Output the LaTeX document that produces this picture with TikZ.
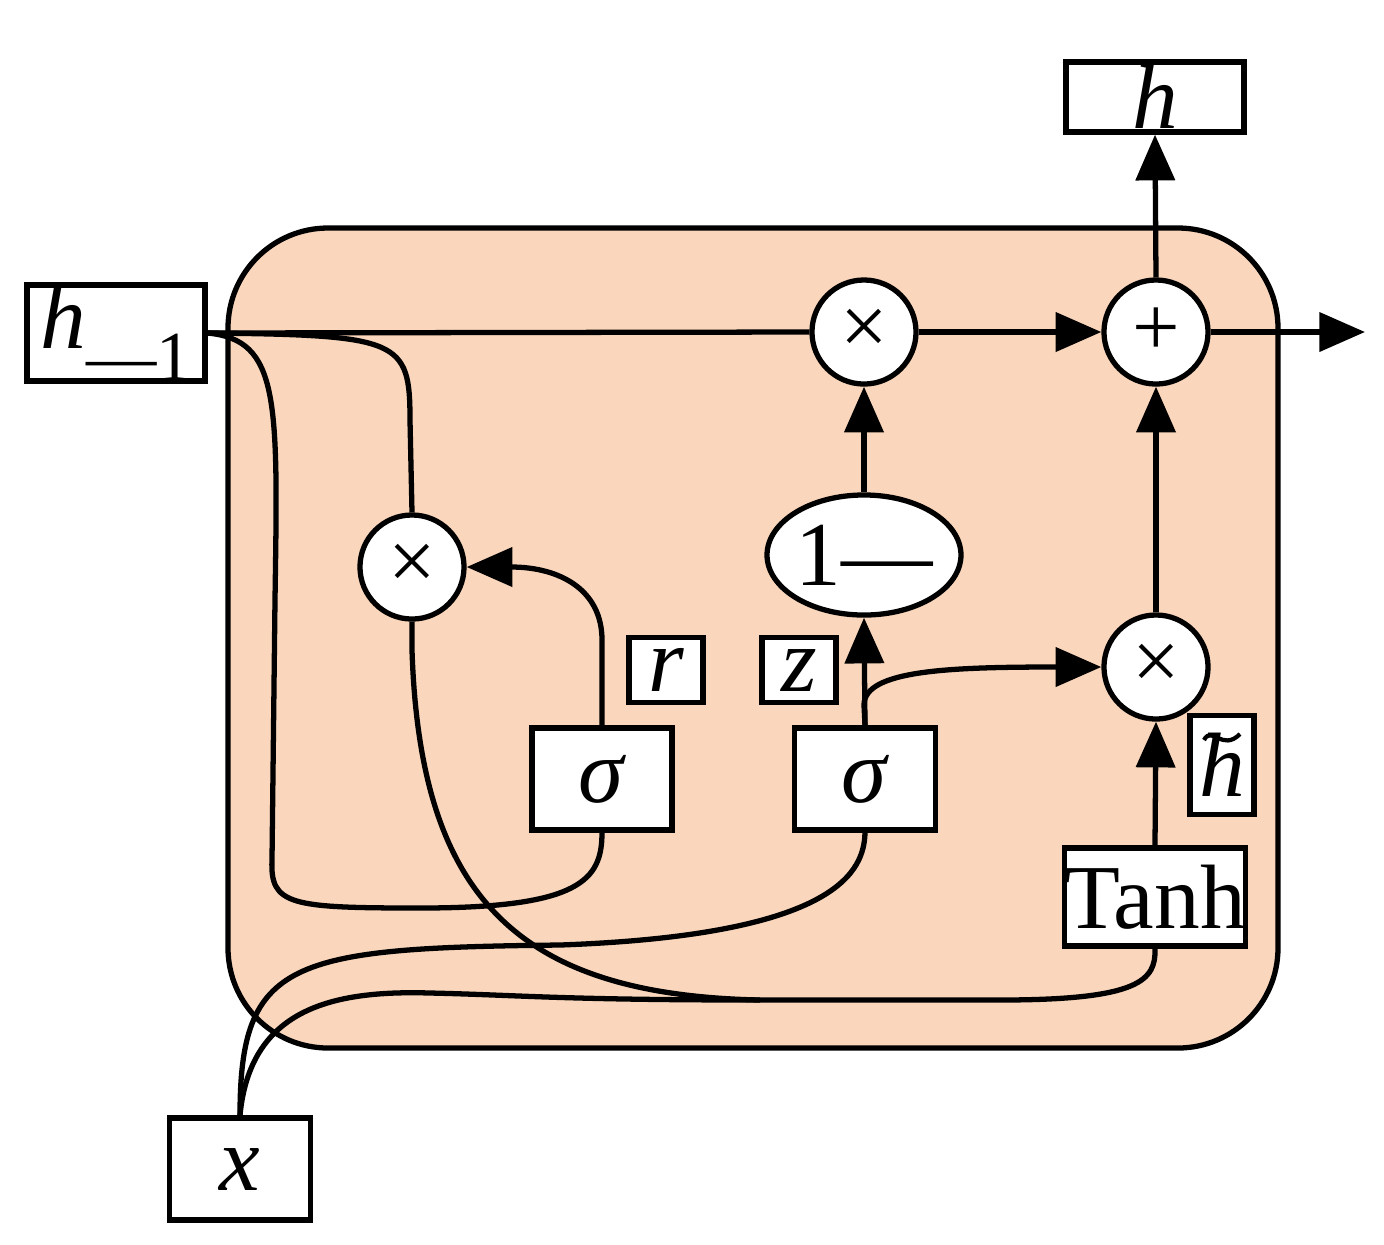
\documentclass[tikz,border=0pt]{standalone}
\usepackage{fontspec}
\setmainfont{Liberation Serif}
\usetikzlibrary{arrows.meta,shapes.geometric}
\definecolor{peach}{HTML}{FAD7BC}
\begin{document}
\begin{tikzpicture}[x=0.01cm,y=-0.01cm,
  ln/.style={line width=1.5pt},
  ar/.style={ln,-{Triangle[length=13pt,width=11pt]}},
  bx/.style={draw,ln,fill=white,inner sep=0pt,font=\fontsize{26}{30}\selectfont},
  op/.style={draw,ln,fill=white,circle,minimum size=1.04cm,inner sep=0pt,font=\fontsize{24}{28}\selectfont}]
\useasboundingbox (0,0) rectangle (1384,1244);
\draw[ln,fill=peach,rounded corners=1cm] (228,228) rectangle (1278,1048);
% boxes
\node[bx,minimum width=1.78cm,minimum height=0.70cm] (h) at (1155,97) {\textit{h}};
\node[bx,minimum width=1.78cm,minimum height=0.96cm] (hm) at (116,333) {\textit{h}\raisebox{-0.35em}{\fontsize{20}{24}\selectfont —1}};
\node[bx,minimum width=1.41cm,minimum height=1.02cm] (x) at (240,1169) {\textit{x}};
\node[bx,minimum width=1.40cm,minimum height=1.02cm] (s1) at (602,779) {\textit{σ}};
\node[bx,minimum width=1.41cm,minimum height=1.02cm] (s2) at (865,779) {\textit{σ}};
\node[bx,minimum width=1.78cm,minimum height=0.98cm] (t) at (1155,897) {Tanh};
\node[bx,minimum width=0.74cm,minimum height=0.65cm] (r) at (666,670) {\textit{r}};
\node[bx,minimum width=0.74cm,minimum height=0.65cm] (z) at (799,670) {\textit{z}};
\node[bx,minimum width=0.64cm,minimum height=0.99cm] (ht) at (1222,765) {\raisebox{-0.3em}{\textit{h}}};
\draw[line width=1.2pt] (1204,740) .. controls (1212,725) and (1222,752) .. (1240,734);
% operators
\node[op] (m1) at (864,332) {×};
\node[op] (pl) at (1156,332) {+};
\node[op] (m2) at (412,567) {×};
\node[op] (m3) at (1156,667) {×};
\node[draw,ln,fill=white,ellipse,minimum width=1.80cm,minimum height=1.20cm,inner sep=0pt,font=\fontsize{26}{30}\selectfont] (om) at (864,555) {1—};
\coordinate (out) at (1365,332);
% connectors
\draw[ln] (hm.east) -- (m1.west);
\draw[ar] (m1.east) -- (pl.west);
\draw[ar] (pl.east) -- (out);
\draw[ar] (pl.north) -- (h.south);
\draw[ar] (om.north) -- (m1.south);
\draw[ar] (s2.north) -- (om.south);
\draw[ar] (s2.north) -- (864,705) .. controls (864,670) and (950,667) .. (m3.west);
\draw[ar] (t.north) -- (m3.south);
\draw[ar] (m3.north) -- (pl.south);
\draw[ar] (s1.north) -- (602,640) .. controls (602,590) and (560,567) .. (m2.east);
\draw[ln] (hm.east) .. controls (400,335) and (410,340) .. (410,420) -- (m2.north);
\draw[ln] (hm.east) .. controls (280,340) and (278,400) .. (275,600) -- (272,860) .. controls (270,905) and (290,908) .. (420,908) .. controls (580,908) and (602,880) .. (s1.south);
\draw[ln] (m2.south) -- (412,650) .. controls (420,900) and (520,995) .. (760,1000) -- (1000,1000) .. controls (1140,1000) and (1156,980) .. (t.south);
\draw[ln] (x.north) .. controls (240,960) and (290,948) .. (560,945) .. controls (840,935) and (864,870) .. (s2.south);
\draw[ln] (x.north) .. controls (250,1010) and (330,990) .. (430,993) .. controls (520,995) and (560,1000) .. (760,1000);
\end{tikzpicture}
\end{document}
